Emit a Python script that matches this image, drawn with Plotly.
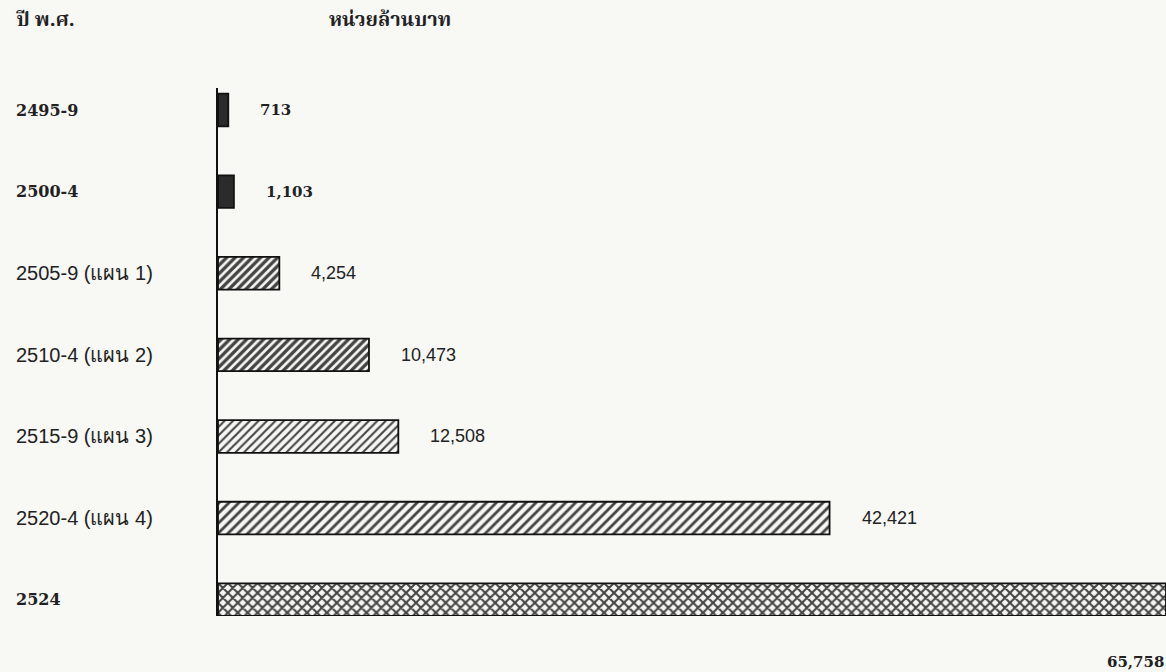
import plotly.graph_objects as go

periods = ["2495-9", "2500-4", "2505-9 (แผน 1)", "2510-4 (แผน 2)",
           "2515-9 (แผน 3)", "2520-4 (แผน 4)", "2524"]
values = [713, 1103, 4254, 10473, 12508, 42421, 65758]
value_labels = ["713", "1,103", "4,254", "10,473", "12,508", "42,421", "65,758"]
serif_rows = [True, True, False, False, False, False, True]

pattern_shapes = ["", "", "/", "/", "/", "/", "x"]
pattern_solidity = [0.5, 0.5, 0.55, 0.55, 0.35, 0.4, 0.5]
pattern_sizes = [6, 6, 6, 6, 6, 7, 7]
bar_colors = ["#2b2b2b", "#2b2b2b", "#f6f6f3", "#f6f6f3", "#f6f6f3", "#f6f6f3", "#f6f6f3"]

BG = "#f8f8f5"
SERIF = "DejaVu Serif, Liberation Serif, serif"
SANS = "Liberation Sans, Arial, sans-serif"
THAI_HEAD = "Noto Serif Thai, Noto Sans Thai, Noto Sans, serif"

W, H = 1166, 672
ML, MR, MT, MB = 218, 0, 88, 56
pw, ph = W - ML - MR, H - MT - MB


def px_x(x):
    return (x - ML) / pw


def px_y(y):
    return (H - MB - y) / ph


fig = go.Figure()
fig.add_trace(go.Bar(
    y=periods, x=values, orientation="h", width=0.4,
    marker=dict(
        color=bar_colors,
        line=dict(color="#111111", width=1.8),
        pattern=dict(shape=pattern_shapes, fgcolor="#000000", bgcolor="#f6f6f3",
                     fgopacity=1, size=pattern_sizes, solidity=pattern_solidity),
    ),
    hoverinfo="skip",
))

ann = []
for i, (p, v, lab, s) in enumerate(zip(periods, values, value_labels, serif_rows)):
    ann.append(dict(x=px_x(14), xref="paper", y=i, yref="y",
                    text=("<b>%s</b>" % p) if s else p,
                    showarrow=False, xanchor="left", yanchor="middle",
                    font=dict(family=SERIF if s else SANS, size=16 if s else 20, color="#222222")))
    if i == len(periods) - 1:
        ann.append(dict(x=v, xref="x", y=i, yref="y", text="<b>%s</b>" % lab, showarrow=False,
                        xanchor="right", yanchor="middle", yshift=-62,
                        font=dict(family=SERIF, size=15, color="#222222")))
    else:
        ann.append(dict(x=v, xref="x", y=i, yref="y", text=("<b>%s</b>" % lab) if s else lab,
                        showarrow=False, xanchor="left", yanchor="middle", xshift=30,
                        font=dict(family=SERIF if s else SANS, size=15 if s else 18, color="#222222")))

ann.append(dict(x=px_x(14), xref="paper", y=px_y(21), yref="paper", yanchor="middle",
                text="<b>ปี พ.ศ.</b>", showarrow=False, xanchor="left",
                font=dict(family=THAI_HEAD, size=20, color="#222222")))
ann.append(dict(x=px_x(390), xref="paper", y=px_y(21), yref="paper", text="<b>หน่วยล้านบาท</b>",
                showarrow=False, xanchor="center", yanchor="middle",
                font=dict(family=THAI_HEAD, size=20, color="#222222")))

fig.update_layout(
    width=W, height=H,
    margin=dict(l=ML, r=MR, t=MT, b=MB),
    paper_bgcolor=BG, plot_bgcolor=BG,
    showlegend=False,
    annotations=ann,
    xaxis=dict(range=[0, 65758], visible=False, fixedrange=True),
    yaxis=dict(type="category", range=[6.2, -0.27], showticklabels=False,
               showline=True, linecolor="#111111", linewidth=2, showgrid=False,
               zeroline=False, ticks="", fixedrange=True),
)

fig.write_html("out.html")
